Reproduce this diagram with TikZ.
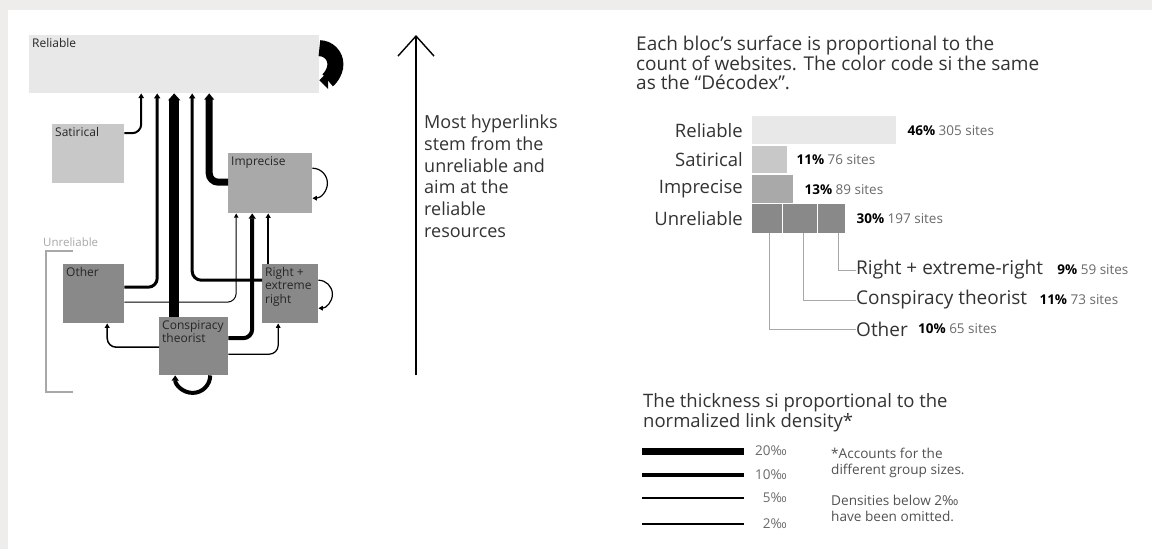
\documentclass[tikz,border=0pt]{standalone}
\usepackage{fontspec}
\setmainfont{Open Sans}
\usetikzlibrary{arrows.meta,positioning,calc}
\definecolor{bgout}{HTML}{EFEDEB}
\definecolor{cRel}{HTML}{E8E8E8}
\definecolor{cSat}{HTML}{C8C8C8}
\definecolor{cImp}{HTML}{A9A9A9}
\definecolor{cUnr}{HTML}{898989}
\definecolor{ink}{HTML}{333333}
\definecolor{soft}{HTML}{6A6A6A}
\definecolor{treeln}{HTML}{A8A8A8}
\newcommand{\fs}[2]{\fontsize{#1}{#2}\selectfont}
\begin{document}
\begin{tikzpicture}[x=1pt,y=-1pt,
	box/.style={anchor=north west,inner sep=0pt},
	boxtag/.style={anchor=north west,inner sep=3pt,align=left,font=\fs{12}{13.5},text=black!85},
	lk/.style={draw=black,rounded corners=9pt,-{Triangle[length=4pt 0.3,width=3.5pt 0.85]}},
	bar/.style={anchor=north west,inner sep=0pt},
	barname/.style={font=\fs{18.5}{20},text=ink,inner sep=0pt},
	barval/.style={font=\fs{13.5}{15},text=soft,inner sep=0pt}]
	\useasboundingbox (0,0) rectangle (1152,549);
	\fill[bgout] (0,0) rectangle (1152,549);
	\fill[white] (8,10) rectangle (1152,549);
	% left: link diagram
	\node[box,fill=cRel,minimum width=290pt,minimum height=58pt,label={[boxtag]north west:Reliable}] (reli) at (29,35) {};
	\node[box,fill=cSat,minimum width=72pt,minimum height=59pt,label={[boxtag]north west:Satirical}] (sat) at (52,124) {};
	\node[box,fill=cImp,minimum width=84pt,minimum height=60pt,label={[boxtag]north west:Imprecise}] (imp) at (228,153) {};
	\node[box,fill=cUnr,minimum width=61pt,minimum height=59pt,label={[boxtag]north west:Other}] (oth) at (63,264) {};
	\node[box,fill=cUnr,minimum width=69pt,minimum height=58pt,label={[boxtag]north west:Conspiracy\\theorist}] (con) at (159,317) {};
	\node[box,fill=cUnr,minimum width=56pt,minimum height=59pt,label={[boxtag]north west:Right +\\extreme\\right}] (rig) at (262,264) {};
	\node[anchor=base west,inner sep=0pt,font=\fs{11.5}{13},text=treeln] (unrtag) at (43,246) {Unreliable};
	\draw[treeln,line width=2pt] (73,251) -| (46,392) -- (73,392);
	% links
	\draw[lk,line width=2pt] ([yshift=20.5pt]sat.east) -| ([xshift=-33pt]reli.south);
	\draw[lk,line width=3pt] ([yshift=6.5pt]oth.east) -| ([xshift=-17pt]reli.south);
	\draw[lk,line width=10pt] (reli.south |- con.north) -- (reli.south);
	\draw[lk,line width=3pt] ([yshift=13.5pt]rig.west) -| ([xshift=18pt]reli.south);
	\draw[lk,line width=7pt] ([yshift=1pt]imp.west) -| ([xshift=35pt]reli.south);
	\draw[lk,line width=1pt] ([yshift=-8.5pt]oth.east) -| ([xshift=-34pt]imp.south);
	\draw[lk,line width=4pt] ([yshift=8pt]con.east) -| ([xshift=-18pt]imp.south);
	\draw[lk,line width=1.5pt] ([xshift=-22pt]rig.north) -- ([xshift=-2pt]imp.south);
	\draw[lk,line width=1.5pt] ([yshift=-1pt]con.west) -| ([xshift=13.5pt]oth.south);
	\draw[lk,line width=1.2pt] ([yshift=-8pt]con.east) -| ([xshift=-12pt]rig.south);
	\draw[lk,line width=16pt] ([yshift=16pt]reli.east) arc[start angle=90,end angle=-90,radius=16pt];
	\draw[lk,line width=1.2pt] ([yshift=15pt]imp.east) arc[start angle=90,end angle=-90,radius=15pt];
	\draw[lk,line width=1.2pt] ([yshift=13.5pt]rig.east) arc[start angle=90,end angle=-90,radius=14pt];
	\draw[lk,line width=4pt] ([xshift=16.5pt]con.south) arc[start angle=0,end angle=-180,radius=17.5pt];
	% middle: big arrow
	\coordinate (flowlo) at (416,375);
	\coordinate (flowhi) at (416,35);
	\draw[line width=1.4pt,-{Straight Barb[length=20pt,width=36pt]}] (flowlo) -- (flowhi);
	\node[anchor=north west,inner sep=0pt,align=left,font=\fs{18}{21.7},text=ink] (flowtxt) at (424,115)
		{Most hyperlinks\\stem from the\\unreliable and\\aim at the\\reliable\\resources};
	% right: group sizes
	\node[anchor=north west,inner sep=0pt,align=left,font=\fs{19}{18.5},text=ink] (sizetxt) at (636,36)
		{Each bloc’s surface is proportional to the\\count of websites. The color code si the same\\as the “Décodex”.};
	\node[bar,fill=cRel,minimum width=144pt,minimum height=28pt] (barrel) at (752,116) {};
	\node[bar,fill=cSat,minimum width=35pt,minimum height=27pt] (barsat) at (752,146) {};
	\node[bar,fill=cImp,minimum width=41pt,minimum height=28pt] (barimp) at (752,175) {};
	\node[bar,fill=cUnr,minimum width=30pt,minimum height=29pt] (segoth) at (752,204) {};
	\node[bar,fill=cUnr,minimum width=34pt,minimum height=29pt] (segcon) at (783,204) {};
	\node[bar,fill=cUnr,minimum width=27pt,minimum height=29pt] (segrig) at (818,204) {};
	\node[barname,left=9pt of barrel] {Reliable};
	\node[barname,left=9pt of barsat] {Satirical};
	\node[barname,left=9pt of barimp] {Imprecise};
	\node[barname,left=9pt of segoth] {Unreliable};
	\node[barval,right=11pt of barrel] (valrel) {\textcolor{black}{\textbf{46\%}} 305 sites};
	\node[barval,right=9pt of barsat] (valsat) {\textcolor{black}{\textbf{11\%}} 76 sites};
	\node[barval,right=11pt of barimp] (valimp) {\textcolor{black}{\textbf{13\%}} 89 sites};
	\node[barval,right=11pt of segrig] (valunr) {\textcolor{black}{\textbf{30\%}} 197 sites};
	\node[barname,anchor=west,font=\fs{19}{20}] (lrig) at (856,270) {Right + extreme-right};
	\node[barname,anchor=west,font=\fs{19}{20}] (lcon) at (856,300) {Conspiracy theorist};
	\node[barname,anchor=west,font=\fs{19}{20}] (loth) at (856,329) {Other};
	\node[barval,right=14pt of lrig] {\textcolor{black}{\textbf{9\%}} 59 sites};
	\node[barval,right=12pt of lcon] {\textcolor{black}{\textbf{11\%}} 73 sites};
	\node[barval,right=10pt of loth] {\textcolor{black}{\textbf{10\%}} 65 sites};
	\draw[treeln,line width=1pt] ([xshift=6.5pt]segrig.south) |- (lrig.west);
	\draw[treeln,line width=1pt] ([xshift=3pt]segcon.south) |- (lcon.west);
	\draw[treeln,line width=1pt] ([xshift=2pt]segoth.south) |- (loth.west);
	% right: thickness legend
	\node[anchor=north west,inner sep=0pt,align=left,font=\fs{18.5}{20.5},text=ink] (thicktxt) at (643,393)
		{The thickness si proportional to the\\normalized link density*};
	\foreach \w/\y/\t in {7/451/20,4/475/10,2.5/498/5,1.2/524/2}{
		\draw[line width=\w pt] (642,\y) -- (744,\y);
		\node[anchor=east,inner sep=0pt,font=\fs{13.5}{15},text=soft] (leg\t) at (787,\y) {\t‰};
	}
	\node[anchor=north west,inner sep=0pt,align=left,font=\fs{13.6}{16},text=ink!85] (note1) at (831,448)
		{*Accounts for the\\different group sizes.};
	\node[anchor=north west,inner sep=0pt,align=left,font=\fs{13.6}{15.5},text=ink!85] (note2) at (831,495)
		{Densities below 2‰\\have been omitted.};
\end{tikzpicture}
\end{document}
